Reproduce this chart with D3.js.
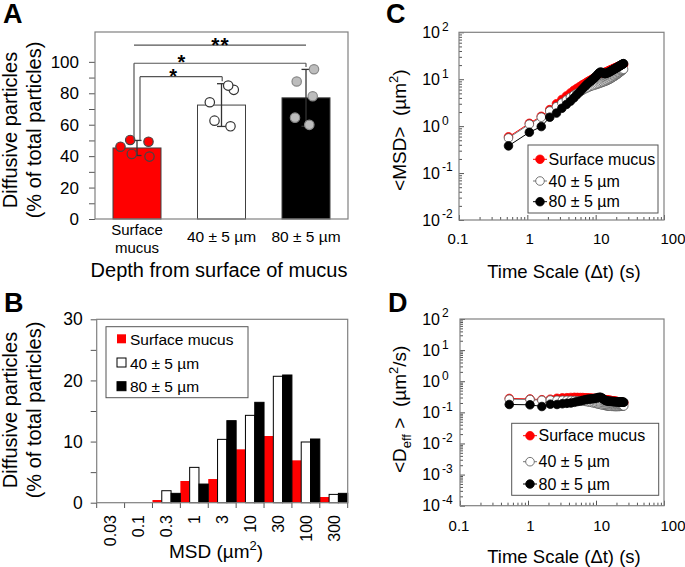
<!DOCTYPE html>
<html><head><meta charset="utf-8">
<script src="https://cdn.jsdelivr.net/npm/d3@7"></script>
<style>body{margin:0;background:#fff} svg{display:block;font-family:"Liberation Sans",Arial,sans-serif}</style>
</head><body><svg id="c" width="685" height="567"></svg>
<script>
// ---------------- DATA ----------------
// Panel A
const groupsA = ["Surface mucus", "40 ± 5 µm", "80 ± 5 µm"];
const meansA = [45.2, 72.5, 77.1];
const sdA = [4.8, 13.6, 18.1];
const dotsA = [
  [46.0, 50.3, 49.2, 41.4, 39.7],
  [62.6, 82.2, 84.9, 74.3, 59.0],
  [95.3, 87.5, 78.1, 64.5, 59.9]
];
const ticksA = [0, 10, 20, 30, 40, 50, 60, 70, 80, 90, 100];
// Panel B
const binsB = ["0.03", "0.1", "0.3", "1", "3", "10", "30", "100", "300"];
const seriesB = ["Surface mucus", "40 ± 5 µm", "80 ± 5 µm"];
const surfaceB = [0, 0, 0.44, 3.55, 3.87, 8.73, 10.91, 6.93, 0.93];
const d40B = [0, 0, 1.96, 5.78, 10.36, 14.29, 20.68, 9.93, 1.36];
const d80B = [0, 0, 1.53, 3.05, 13.42, 16.42, 20.89, 10.42, 1.53];
const ticksB = [0, 5, 10, 15, 20, 25, 30];
// Panel C / D (time scale, s)
const tau = [0.53,1.07,1.6,2.13,2.67,3.2,3.73,4.27,4.8,5.33,5.87,6.4,6.93,7.47,8.0,8.53,9.07,9.6,10.13,10.67,11.2,11.73,12.27,12.8,13.33,13.87,14.4,14.93,15.47,16.0,16.53,17.07,17.6,18.13,18.67,19.2,19.73,20.27,20.8,21.33,21.87,22.4,22.93,23.47,24.0,24.53,25.07,25.6];
const msdSurface = [0.59,1.15,1.62,2.25,3.0,3.7,4.4,5.1,5.8,6.4,7.0,7.6,8.1,8.7,9.2,9.7,10.2,10.7,11.2,11.7,12.1,12.5,12.9,13.3,13.7,14.1,14.4,14.8,15.1,15.5,15.8,16.1,16.4,16.8,17.1,17.4,17.7,18.0,18.3,18.6,18.9,19.2,19.4,19.6,19.8,20.0,20.2,20.4];
const msd40 = [0.56,1.1,1.55,2.1,2.6,3.1,3.6,4.1,4.6,5.0,5.4,5.8,6.2,6.5,6.8,7.1,7.3,7.5,7.7,7.9,8.1,8.3,8.5,8.7,8.9,9.1,9.3,9.5,9.8,10.0,10.3,10.6,10.9,11.2,11.5,11.8,12.1,12.5,12.8,13.2,13.5,13.9,14.3,14.7,15.1,15.5,15.9,16.3];
const msd80 = [0.38,0.74,0.98,1.55,1.9,2.4,2.9,3.4,4.0,4.7,5.4,6.2,7.0,7.8,8.5,9.2,9.9,10.7,11.6,12.6,13.6,14.2,14.0,13.6,13.3,13.2,13.4,13.7,14.0,14.4,14.8,15.2,15.6,16.0,16.4,16.8,17.2,17.6,18.0,18.4,18.8,19.2,19.6,20.0,20.4,20.8,21.2,21.5];
const deffSurface = [0.28,0.27,0.255,0.265,0.283,0.291,0.296,0.301,0.304,0.302,0.300,0.299,0.294,0.293,0.289,0.286,0.283,0.280,0.278,0.276,0.272,0.268,0.265,0.261,0.258,0.256,0.252,0.249,0.246,0.244,0.240,0.237,0.234,0.233,0.230,0.228,0.226,0.223,0.221,0.219,0.217,0.216,0.213,0.210,0.208,0.205,0.203,0.200];
const deff40 = [0.264,0.259,0.244,0.248,0.245,0.244,0.243,0.242,0.241,0.236,0.232,0.228,0.225,0.219,0.214,0.209,0.203,0.197,0.191,0.186,0.182,0.178,0.174,0.171,0.168,0.165,0.162,0.160,0.159,0.157,0.157,0.156,0.156,0.155,0.155,0.155,0.154,0.155,0.155,0.156,0.155,0.156,0.157,0.158,0.158,0.159,0.160,0.160];
const deff80 = [0.179,0.175,0.154,0.183,0.179,0.189,0.195,0.200,0.210,0.222,0.232,0.244,0.254,0.263,0.267,0.271,0.275,0.280,0.288,0.297,0.305,0.304,0.287,0.267,0.251,0.239,0.234,0.231,0.228,0.226,0.225,0.224,0.223,0.222,0.221,0.220,0.219,0.218,0.218,0.217,0.216,0.216,0.215,0.214,0.214,0.213,0.213,0.211];
const xTicksCD = [0.1, 1, 10, 100];
const xTickLabelsCD = ["0.1", "1", "10", "100"];
const yTicksC = [0.01, 0.1, 1, 10, 100];
const yTicksD = [1e-4, 1e-3, 1e-2, 1e-1, 1, 10, 100];

// ---------------- STYLE ----------------
const RED = "#ff0000", FRAME = "#808080";
const svg = d3.select("#c");

function frame(g, x0, y0, x1, y1) {
  g.append("rect").attr("x", x0).attr("y", y0).attr("width", x1 - x0).attr("height", y1 - y0)
    .attr("fill", "none").attr("stroke", FRAME).attr("stroke-width", 1.2);
}
function panelLabel(t, x, y) {
  svg.append("text").attr("x", x).attr("y", y).attr("font-size", 27).attr("font-weight", "bold").text(t);
}
function twoLineYTitle(cx, cy) {
  const g = svg.append("g").attr("transform", `translate(${cx},${cy}) rotate(-90)`);
  g.append("text").attr("x", 0).attr("y", -24).attr("text-anchor", "middle").attr("font-size", 20).text("Diffusive particles");
  g.append("text").attr("x", 0).attr("y", 0).attr("text-anchor", "middle").attr("font-size", 20).text("(% of total particles)");
}

// ================= PANEL A =================
panelLabel("A", 3, 23);
const xA = d3.scaleBand().domain(groupsA).range([95, 348]).paddingInner(0.432).paddingOuter(0.213);
const yA = d3.scaleLinear().domain([0, 119]).range([219, 32]);
const gA = svg.append("g");
const cA = i => xA(groupsA[i]) + xA.bandwidth() / 2;
const barFillA = [RED, "#ffffff", "#000000"];
gA.selectAll("rect.bar").data(meansA).join("rect").attr("class", "bar")
  .attr("x", (d, i) => xA(groupsA[i])).attr("y", d => yA(d))
  .attr("width", xA.bandwidth()).attr("height", d => yA(0) - yA(d))
  .attr("fill", (d, i) => barFillA[i]).attr("stroke", "#404040").attr("stroke-width", 1);
// error bars
meansA.forEach((m, i) => {
  const x = cA(i), capW = 4.5;
  const col = "#333";
  gA.append("line").attr("x1", x).attr("x2", x).attr("y1", yA(m - sdA[i])).attr("y2", yA(m + sdA[i])).attr("stroke", col).attr("stroke-width", 1.3);
  [m - sdA[i], m + sdA[i]].forEach(v => gA.append("line").attr("x1", x - capW).attr("x2", x + capW).attr("y1", yA(v)).attr("y2", yA(v)).attr("stroke", col).attr("stroke-width", 1.3));
});
// dots
const jitterA = [[-16.5, -6.8, 11.5, -5.2, 12.5], [-7, 12.3, 6.7, -11.7, 9], [8, -9.3, 6.7, -11, 3.3]];
const dotFillA = [RED, "#ffffff", "#bdbdbd"], dotStrokeA = ["#444", "#333", "#888"];
dotsA.forEach((arr, i) => {
  gA.selectAll(null).data(arr).join("circle")
    .attr("cx", (d, j) => cA(i) + jitterA[i][j]).attr("cy", d => yA(d)).attr("r", 4.7)
    .attr("fill", dotFillA[i]).attr("stroke", dotStrokeA[i]).attr("stroke-width", 1.2);
});
// significance brackets
const bc = "#555";
function ln(x1, y1, x2, y2) { gA.append("line").attr("x1", x1).attr("y1", y1).attr("x2", x2).attr("y2", y2).attr("stroke", bc).attr("stroke-width", 1.2); }
const yLow = yA(90.6), yUp = yA(99.1), yTop = yA(110.7);
ln(cA(0) + 3, yLow, cA(1) + 0.7, yLow); ln(cA(0) + 3, yLow, cA(0) + 3, yA(meansA[0] + sdA[0])); ln(cA(1) + 0.7, yLow, cA(1) + 0.7, yA(meansA[1] + sdA[1]) - 2.5);
ln(cA(0) - 3, yUp, cA(2), yUp); ln(cA(0) - 3, yUp, cA(0) - 3, yA(meansA[0] + sdA[0])); ln(cA(2), yUp, cA(2), yA(meansA[2] + sdA[2]) - 2.5);
ln(cA(0) - 3, yTop, cA(2), yTop);
const starX = (cA(0) + cA(1)) / 2 - 2;
gA.append("text").attr("x", starX + 4.2).attr("y", yUp - 5.8 + 12).attr("text-anchor", "middle").attr("font-size", 20).attr("font-weight", "bold").text("*");
gA.append("text").attr("x", starX - 4.2).attr("y", yLow - 5.5 + 12).attr("text-anchor", "middle").attr("font-size", 20).attr("font-weight", "bold").text("*");
gA.append("text").attr("x", (cA(0) + cA(2)) / 2 - 1).attr("y", yTop - 4.8 + 12).attr("text-anchor", "middle").attr("font-size", 21).attr("font-weight", "bold").attr("letter-spacing", 1).text("**");
// axis
const axA = svg.append("g").attr("transform", "translate(95,0)")
  .call(d3.axisLeft(yA).tickValues(ticksA).tickSize(6).tickPadding(10).tickFormat(d => d % 20 === 0 ? d : ""));
axA.select(".domain").remove();
axA.selectAll(".tick line").attr("stroke", "#555");
axA.selectAll("text").attr("font-size", 17).attr("font-family", null).attr("fill", "#000");
frame(svg, 95, 32, 348, 219);
// category labels
svg.append("text").attr("x", cA(0)).attr("y", 235).attr("text-anchor", "middle").attr("font-size", 15).text("Surface");
svg.append("text").attr("x", cA(0)).attr("y", 253).attr("text-anchor", "middle").attr("font-size", 15).text("mucus");
[1, 2].forEach(i => svg.append("text").attr("x", cA(i)).attr("y", 242).attr("text-anchor", "middle").attr("font-size", 15.5).text(groupsA[i]));
svg.append("text").attr("x", 219).attr("y", 277).attr("text-anchor", "middle").attr("font-size", 20).text("Depth from surface of mucus");
twoLineYTitle(41, 130);

// ================= PANEL B =================
panelLabel("B", 4, 312);
const xB = d3.scaleBand().domain(binsB).range([96.7, 347.7]).padding(0);
const xBs = d3.scaleBand().domain(seriesB).range([0, xB.bandwidth()]).padding(0);
const yB = d3.scaleLinear().domain([0, 30]).range([502.7, 319.3]);
const valsB = [surfaceB, d40B, d80B];
const fillB = [RED, "#ffffff", "#000000"], strokeB = ["none", "#000", "#000"];
const gB = svg.append("g");
valsB.forEach((vals, s) => {
  gB.selectAll(null).data(vals).join("rect")
    .attr("x", (d, i) => xB(binsB[i]) + xBs(seriesB[s])).attr("width", xBs.bandwidth())
    .attr("y", d => yB(d)).attr("height", d => yB(0) - yB(d))
    .attr("fill", fillB[s]).attr("stroke", d => d > 0 ? strokeB[s] : "none").attr("stroke-width", 1);
});
const axB = svg.append("g").attr("transform", "translate(96.7,0)")
  .call(d3.axisLeft(yB).tickValues(ticksB).tickSize(6).tickPadding(8).tickFormat(d => d % 10 === 0 ? d : ""));
axB.select(".domain").remove();
axB.selectAll(".tick line").attr("stroke", "#555");
axB.selectAll("text").attr("font-size", 17.5).attr("font-family", null).attr("fill", "#000");
// x boundary ticks
const bxB = binsB.map(b => xB(b)).concat([xB.range()[1]]);
svg.append("g").selectAll("line").data(bxB).join("line").attr("x1", d => d).attr("x2", d => d).attr("y1", 502.7).attr("y2", 508).attr("stroke", "#555");
frame(svg, 96.7, 319.3, 347.7, 502.7);
// rotated x labels
binsB.forEach(b => {
  svg.append("text").attr("transform", `translate(${xB(b) + xB.bandwidth() / 2 + 5.8},515) rotate(-90)`)
    .attr("text-anchor", "end").attr("font-size", 16).text(b);
});
const tB = svg.append("text").attr("x", 216).attr("y", 558).attr("text-anchor", "middle").attr("font-size", 19);
tB.append("tspan").text("MSD (µm");
tB.append("tspan").attr("dy", -8).attr("font-size", 13).text("2");
tB.append("tspan").attr("dy", 8).text(")");
twoLineYTitle(41, 410);
// legend B
const lgB = svg.append("g");
lgB.append("rect").attr("x", 106).attr("y", 326.7).attr("width", 142).attr("height", 71).attr("fill", "#fff").attr("stroke", "#555").attr("stroke-width", 1);
seriesB.forEach((s, i) => {
  const cy = 339.3 + i * 23.7;
  lgB.append("rect").attr("x", 117).attr("y", cy - 5).attr("width", 9).attr("height", 9)
    .attr("fill", fillB[i]).attr("stroke", i === 0 ? "none" : "#000");
  lgB.append("text").attr("x", 130).attr("y", cy + 5.5).attr("font-size", 15.5).text(s);
});

// ================= PANELS C & D =================
function logPanel(opt) {
  const { x0, x1, y0, y1, yDomain, yTicks, series, label, lx, ly, legendBox, yTitle, xTitleY, xLabY } = opt;
  panelLabel(label, lx, ly);
  const x = d3.scaleLog().domain([0.1, 100]).range([x0, x1]);
  const y = d3.scaleLog().domain(yDomain).range([y1, y0]);
  const g = svg.append("g");
  // minor ticks (inside)
  const xMinor = [], yMinor = [];
  for (let e = -1; e < 2; e++) for (let k = 2; k < 10; k++) xMinor.push(k * Math.pow(10, e));
  const le = Math.round(Math.log10(yDomain[0])), he = Math.round(Math.log10(yDomain[1]));
  for (let e = le; e < he; e++) for (let k = 2; k < 10; k++) yMinor.push(k * Math.pow(10, e));
  g.append("g").attr("transform", `translate(0,${y1})`).call(d3.axisTop(x).tickValues(xMinor).tickSize(3).tickFormat(""))
    .call(a => a.select(".domain").remove()).selectAll("line").attr("stroke", "#555");
  g.append("g").attr("transform", `translate(0,${y1})`).call(d3.axisTop(x).tickValues(xTicksCD).tickSize(5).tickFormat(""))
    .call(a => a.select(".domain").remove()).selectAll("line").attr("stroke", "#555");
  g.append("g").attr("transform", `translate(${x0},0)`).call(d3.axisRight(y).tickValues(yMinor).tickSize(3).tickFormat(""))
    .call(a => a.select(".domain").remove()).selectAll("line").attr("stroke", "#555");
  g.append("g").attr("transform", `translate(${x0},0)`).call(d3.axisRight(y).tickValues(yTicks).tickSize(5).tickFormat(""))
    .call(a => a.select(".domain").remove()).selectAll("line").attr("stroke", "#555");
  frame(g, x0, y0, x1, y1);
  // x tick labels (slightly spread as in the source)
  const xl = d3.scaleLog().domain([0.1, 100]).range([x0 - 1, x1 + 9]);
  xTicksCD.forEach((v, i) => g.append("text").attr("x", xl(v)).attr("y", xLabY).attr("text-anchor", "middle").attr("font-size", 15).text(xTickLabelsCD[i]));
  // y tick labels 10^n
  yTicks.forEach(v => {
    const e = Math.round(Math.log10(v));
    g.append("text").attr("x", 440).attr("y", y(v) + 5.6).attr("text-anchor", "end").attr("font-size", 16).text("10");
    g.append("text").attr("x", 442).attr("y", y(v) - 1.6).attr("font-size", 12).text(e < 0 ? "-" + Math.abs(e) : String(e));
  });
  // series
  const styles = [
    { fill: RED, stroke: RED, line: RED },
    { fill: "#ffffff", stroke: "#555", line: "#777" },
    { fill: "#000", stroke: "#000", line: "#000" }
  ];
  const line = d3.line().x(d => x(d[0])).y(d => y(d[1]));
  series.forEach((vals, s) => {
    const pts = tau.map((t, i) => [t, vals[i]]).filter(d => d[1] !== undefined);
    g.append("path").attr("d", line(pts)).attr("fill", "none").attr("stroke", styles[s].line).attr("stroke-width", 1);
    g.selectAll(null).data(pts).join("circle").attr("cx", d => x(d[0])).attr("cy", d => y(d[1])).attr("r", 4.3)
      .attr("fill", styles[s].fill).attr("stroke", styles[s].stroke).attr("stroke-width", 0.8);
  });
  // legend
  const [bx, by, bw, bh, ys, mx] = legendBox;
  g.append("rect").attr("x", bx).attr("y", by).attr("width", bw).attr("height", bh).attr("fill", "#fff").attr("stroke", "#555").attr("stroke-width", 1);
  seriesB.forEach((name, i) => {
    const cy = ys[i];
    g.append("line").attr("x1", mx - 7).attr("x2", mx + 7).attr("y1", cy).attr("y2", cy).attr("stroke", styles[i].line);
    g.append("circle").attr("cx", mx).attr("cy", cy).attr("r", 4.3).attr("fill", styles[i].fill).attr("stroke", styles[i].stroke).attr("stroke-width", 0.8);
    g.append("text").attr("x", mx + 8.5).attr("y", cy + 5.5).attr("font-size", 16).text(name);
  });
  // titles
  const yt = g.append("text").attr("transform", `translate(406,${(y0 + y1) / 2 + (yTitle.shift || 0)}) rotate(-90)`).attr("text-anchor", "middle").attr("font-size", 19);
  yTitle.build(yt);
  g.append("text").attr("x", 564).attr("y", xTitleY).attr("text-anchor", "middle").attr("font-size", 18.5).text("Time Scale (\u0394t) (s)");
}

logPanel({
  x0: 459, x1: 664, y0: 32.3, y1: 220, yDomain: [0.01, 100], yTicks: yTicksC,
  series: [msdSurface, msd40, msd80], label: "C", lx: 386, ly: 23,
  legendBox: [528, 145, 130, 68, [159.3, 181, 201.7], 540],
  xLabY: 244, xTitleY: 278,
  yTitle: { shift: 4, build: t => { t.append("tspan").text("<MSD>\u00A0\u00A0(µm"); t.append("tspan").attr("dy", -8).attr("font-size", 13).text("2"); t.append("tspan").attr("dy", 8).text(")"); } }
});
logPanel({
  x0: 460, x1: 664, y0: 319, y1: 505.7, yDomain: [1e-4, 100], yTicks: yTicksD,
  series: [deffSurface, deff40, deff80], label: "D", lx: 388, ly: 312,
  legendBox: [511.7, 423.3, 147, 72, [435.7, 461.7, 484], 530],
  xLabY: 530.5, xTitleY: 563,
  yTitle: { shift: -3, build: t => { t.append("tspan").text("<D"); t.append("tspan").attr("dy", 5).attr("font-size", 13).text("eff"); t.append("tspan").attr("dy", -5).text("\u00A0>\u00A0\u00A0(µm"); t.append("tspan").attr("dy", -8).attr("font-size", 13).text("2"); t.append("tspan").attr("dy", 8).text("/s)"); } }
});
</script></body></html>
